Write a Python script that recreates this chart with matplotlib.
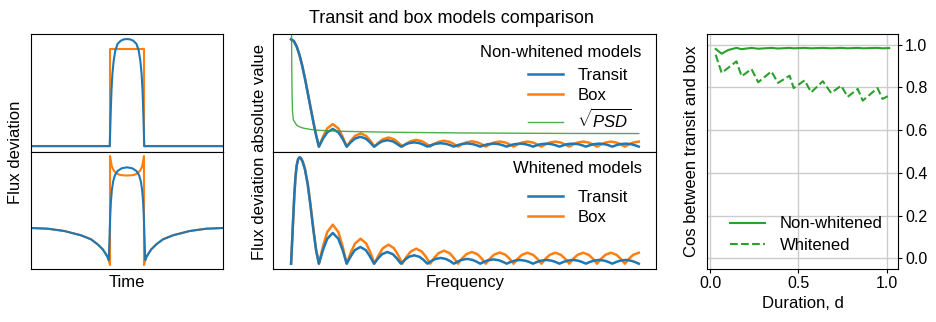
import matplotlib
matplotlib.use("Agg")
import matplotlib.pyplot as plt

plt.rcParams['font.family'] = ['Liberation Sans', 'DejaVu Sans']
plt.rcParams['mathtext.fontset'] = 'custom'
plt.rcParams['mathtext.rm'] = 'Liberation Sans'
plt.rcParams['mathtext.it'] = 'Liberation Sans:italic'

BLUE = '#1f77b4'
ORANGE = '#ff7f0e'
GREEN = '#2ca02c'

# ---------------- Left panels: time domain ----------------
time_box = [-1.0, -0.177, -0.177, 0.177, 0.177, 1.0]
flux_box = [0.0, 0.0, 1.0, 1.0, 0.0, 0.0]

time_transit = [-1.0, -0.18, -0.174, -0.168, -0.162, -0.152, -0.139, -0.122, -0.099, -0.065, -0.032, 0.0,
                0.032, 0.065, 0.099, 0.122, 0.139, 0.152, 0.162, 0.168, 0.174, 0.18, 1.0]
flux_transit = [0.0, 0.0, 0.2, 0.4, 0.57, 0.745, 0.88, 0.985, 1.054, 1.088, 1.102, 1.105,
                1.102, 1.088, 1.054, 0.985, 0.88, 0.745, 0.57, 0.4, 0.2, 0.0, 0.0]

time_box_w = [-1.0, -0.826, -0.653, -0.479, -0.375, -0.306, -0.253, -0.219, -0.2, -0.19, -0.177,
              -0.177, -0.167, -0.156, -0.139, -0.115, -0.08, -0.045, 0.0,
              0.045, 0.08, 0.115, 0.139, 0.156, 0.167, 0.177,
              0.177, 0.19, 0.2, 0.219, 0.253, 0.306, 0.375, 0.479, 0.653, 0.826, 1.0]
flux_box_w = [0.37, 0.363, 0.34, 0.297, 0.257, 0.207, 0.157, 0.107, 0.075, 0.045, 0.0,
              1.09, 1.03, 0.98, 0.947, 0.92, 0.903, 0.897, 0.895,
              0.897, 0.903, 0.92, 0.947, 0.98, 1.03, 1.09,
              0.0, 0.045, 0.075, 0.107, 0.157, 0.207, 0.257, 0.297, 0.34, 0.363, 0.37]

time_transit_w = [-1.0, -0.826, -0.653, -0.479, -0.375, -0.306, -0.253, -0.219, -0.2, -0.19,
                  -0.182, -0.175, -0.168, -0.158, -0.144, -0.126, -0.098, -0.056, 0.0,
                  0.056, 0.098, 0.126, 0.144, 0.158, 0.168, 0.175, 0.182,
                  0.19, 0.2, 0.219, 0.253, 0.306, 0.375, 0.479, 0.653, 0.826, 1.0]
flux_transit_w = [0.37, 0.363, 0.34, 0.297, 0.257, 0.207, 0.157, 0.107, 0.075, 0.05,
                  0.28, 0.49, 0.63, 0.747, 0.837, 0.897, 0.94, 0.967, 0.977,
                  0.967, 0.94, 0.897, 0.837, 0.747, 0.63, 0.49, 0.28,
                  0.05, 0.075, 0.107, 0.157, 0.207, 0.257, 0.297, 0.34, 0.363, 0.37]

# ---------------- Middle panels: frequency domain ----------------
freq_main_nw = [0.0, 0.1, 0.2, 0.3, 0.4, 0.5, 0.6, 0.7, 0.8, 0.9, 1.0]
box_main_nw = [1.0, 0.984, 0.935, 0.858, 0.757, 0.637, 0.504, 0.368, 0.234, 0.109, 0.0]
transit_main_nw = [1.0, 0.984, 0.934, 0.856, 0.754, 0.633, 0.499, 0.362, 0.229, 0.105, 0.0]

freq_main_w = [0.0, 0.04, 0.08, 0.12, 0.16, 0.2, 0.25, 0.3, 0.35, 0.42, 0.5, 0.6, 0.7, 0.8, 0.9, 1.0]
box_main_w = [0.0, 0.22, 0.45, 0.66, 0.82, 0.92, 0.98, 1.0, 0.995, 0.96, 0.89, 0.75, 0.55, 0.33, 0.13, 0.0]
transit_main_w = [0.0, 0.22, 0.45, 0.66, 0.82, 0.92, 0.98, 1.0, 0.993, 0.955, 0.885, 0.742, 0.54, 0.32, 0.125, 0.0]

freq_side_box = [1.15, 1.3, 1.5, 1.7, 1.85, 2.0,
                 2.15, 2.3, 2.5, 2.7, 2.85, 3.0,
                 3.15, 3.3, 3.5, 3.7, 3.85, 4.0,
                 4.15, 4.3, 4.5, 4.7, 4.85, 5.0,
                 5.15, 5.3, 5.5, 5.7, 5.85, 6.0,
                 6.15, 6.3, 6.5, 6.7, 6.85, 7.0,
                 7.15, 7.3, 7.5, 7.7, 7.85, 8.0,
                 8.15, 8.3, 8.5, 8.7, 8.85, 9.0,
                 9.15, 9.3, 9.5, 9.7, 9.85, 10.0,
                 10.15, 10.3, 10.5, 10.7, 10.85, 11.0,
                 11.15, 11.3, 11.5, 11.7, 11.85, 12.0,
                 12.15, 12.3, 12.5]
box_side_nw = [0.095, 0.17, 0.21, 0.17, 0.095, 0.0,
               0.056, 0.1, 0.124, 0.1, 0.056, 0.0,
               0.039, 0.069, 0.085, 0.069, 0.039, 0.0,
               0.029, 0.051, 0.063, 0.051, 0.029, 0.0,
               0.025, 0.045, 0.055, 0.045, 0.025, 0.0,
               0.023, 0.04, 0.05, 0.04, 0.023, 0.0,
               0.022, 0.039, 0.048, 0.039, 0.022, 0.0,
               0.021, 0.038, 0.047, 0.038, 0.021, 0.0,
               0.021, 0.038, 0.047, 0.038, 0.021, 0.0,
               0.021, 0.038, 0.047, 0.038, 0.021, 0.0,
               0.021, 0.038, 0.047, 0.038, 0.021, 0.0,
               0.021, 0.038, 0.047]
box_side_w = [0.167, 0.297, 0.367, 0.297, 0.167, 0.0,
              0.107, 0.19, 0.235, 0.19, 0.107, 0.0,
              0.081, 0.145, 0.179, 0.145, 0.081, 0.0,
              0.064, 0.114, 0.141, 0.114, 0.064, 0.0,
              0.055, 0.099, 0.122, 0.099, 0.055, 0.0,
              0.05, 0.089, 0.11, 0.089, 0.05, 0.0,
              0.048, 0.085, 0.105, 0.085, 0.048, 0.0,
              0.047, 0.083, 0.103, 0.083, 0.047, 0.0,
              0.047, 0.083, 0.103, 0.083, 0.047, 0.0,
              0.047, 0.083, 0.103, 0.083, 0.047, 0.0,
              0.047, 0.083, 0.103, 0.083, 0.047, 0.0,
              0.047, 0.083, 0.103]

freq_side_transit = [1.15, 1.3, 1.5, 1.7, 1.85, 2.0,
                     2.15, 2.29, 2.49, 2.69, 2.83, 2.98,
                     3.13, 3.27, 3.46, 3.66, 3.8, 3.95,
                     4.09, 4.23, 4.43, 4.62, 4.76, 4.9,
                     5.04, 5.18, 5.38, 5.57, 5.71, 5.85,
                     5.99, 6.13, 6.33, 6.52, 6.66, 6.8,
                     6.94, 7.08, 7.28, 7.47, 7.61, 7.75,
                     7.89, 8.03, 8.23, 8.42, 8.56, 8.7,
                     8.84, 8.98, 9.18, 9.37, 9.51, 9.65,
                     9.79, 9.93, 10.13, 10.32, 10.46, 10.6,
                     10.74, 10.88, 11.08, 11.27, 11.41, 11.55,
                     11.69, 11.83, 12.03, 12.22, 12.36, 12.5]
transit_side_nw = [0.075, 0.133, 0.165, 0.133, 0.075, 0.0,
                   0.042, 0.074, 0.092, 0.074, 0.042, 0.0,
                   0.027, 0.049, 0.06, 0.049, 0.027, 0.0,
                   0.018, 0.032, 0.04, 0.032, 0.018, 0.0,
                   0.015, 0.026, 0.032, 0.026, 0.015, 0.0,
                   0.014, 0.024, 0.03, 0.024, 0.014, 0.0,
                   0.013, 0.023, 0.028, 0.023, 0.013, 0.0,
                   0.013, 0.023, 0.028, 0.023, 0.013, 0.0,
                   0.013, 0.023, 0.028, 0.023, 0.013, 0.0,
                   0.013, 0.023, 0.028, 0.023, 0.013, 0.0,
                   0.013, 0.023, 0.028, 0.023, 0.013, 0.0,
                   0.013, 0.023, 0.028, 0.023, 0.013, 0.0]
transit_side_w = [0.131, 0.234, 0.289, 0.234, 0.131, 0.0,
                  0.071, 0.127, 0.157, 0.127, 0.071, 0.0,
                  0.05, 0.089, 0.11, 0.089, 0.05, 0.0,
                  0.036, 0.064, 0.079, 0.064, 0.036, 0.0,
                  0.025, 0.044, 0.054, 0.044, 0.025, 0.0,
                  0.02, 0.036, 0.045, 0.036, 0.02, 0.0,
                  0.018, 0.032, 0.04, 0.032, 0.018, 0.0,
                  0.016, 0.028, 0.035, 0.028, 0.016, 0.0,
                  0.016, 0.028, 0.035, 0.028, 0.016, 0.0,
                  0.016, 0.028, 0.035, 0.028, 0.016, 0.0,
                  0.016, 0.028, 0.035, 0.028, 0.016, 0.0,
                  0.016, 0.028, 0.035, 0.028, 0.016, 0.0]

freq_psd = [0.0, 0.015, 0.025, 0.035, 0.05, 0.08, 0.15, 0.2, 0.3, 0.45, 0.7, 1.0,
            1.5, 2.0, 3.0, 4.0, 6.0, 8.0, 10.0, 12.5]
sqrt_psd = [3.0, 1.2, 0.75, 0.5, 0.33, 0.25, 0.222, 0.2, 0.185, 0.172, 0.16, 0.152,
            0.146, 0.142, 0.137, 0.133, 0.128, 0.125, 0.123, 0.122]

# ---------------- Right panel: cosine vs duration ----------------
dur_nw = [0.032, 0.066, 0.103, 0.15, 0.179, 0.235, 0.273, 0.348, 0.385, 0.451, 0.474,
          0.536, 0.573, 0.639, 0.686, 0.743, 0.78, 0.837, 0.865, 0.949, 0.977, 1.015]
cos_nw = [0.980, 0.958, 0.975, 0.985, 0.979, 0.985, 0.981, 0.985, 0.982, 0.985, 0.983,
          0.985, 0.983, 0.985, 0.983, 0.985, 0.983, 0.985, 0.983, 0.985, 0.983, 0.984]
dur_w = [0.032, 0.066, 0.15, 0.179, 0.235, 0.273, 0.348, 0.385, 0.451, 0.474, 0.536,
         0.573, 0.639, 0.686, 0.743, 0.78, 0.837, 0.865, 0.949, 0.977, 1.015]
cos_w = [0.953, 0.868, 0.922, 0.852, 0.886, 0.824, 0.875, 0.821, 0.855, 0.797, 0.833,
         0.777, 0.829, 0.774, 0.808, 0.756, 0.793, 0.738, 0.797, 0.746, 0.762]

# ---------------- Figure ----------------
W, H = 937, 322
fig = plt.figure(figsize=(W / 100, H / 100), dpi=100)


def rect(x0, y0, x1, y1):
    return [x0 / W, 1 - y1 / H, (x1 - x0) / W, (y1 - y0) / H]


FS = 12

ax_lt = fig.add_axes(rect(31, 34, 223, 152))
ax_lb = fig.add_axes(rect(31, 152, 223, 269))
ax_mt = fig.add_axes(rect(273, 34, 656, 152))
ax_mb = fig.add_axes(rect(273, 152, 656, 269))
ax_r = fig.add_axes(rect(707, 34, 898, 269))

for ax in (ax_lt, ax_lb, ax_mt, ax_mb):
    ax.set_xticks([])
    ax.set_yticks([])

# left top
ax_lt.plot(time_box, flux_box, color=ORANGE, lw=1.5)
ax_lt.plot(time_transit, flux_transit, color=BLUE, lw=1.5)
ax_lt.set_xlim(-1, 1)
ax_lt.set_ylim(-0.06, 1.157)

# left bottom
ax_lb.plot(time_box_w, flux_box_w, color=ORANGE, lw=1.5)
ax_lb.plot(time_transit_w, flux_transit_w, color=BLUE, lw=1.5)
ax_lb.set_xlim(-1, 1)
ax_lb.set_ylim(-0.04, 1.13)

fig.text(16 / W, 1 - 152 / H, 'Flux deviation', rotation=90, ha='center', va='center', fontsize=FS)
fig.text(127 / W, 1 - 286.7 / H, 'Time', ha='center', va='baseline', fontsize=FS)

# middle top
lb, = ax_mt.plot(freq_main_nw + freq_side_box, box_main_nw + box_side_nw, color=ORANGE, lw=1.8)
lt, = ax_mt.plot(freq_main_nw + freq_side_transit, transit_main_nw + transit_side_nw, color=BLUE, lw=1.8)
lp, = ax_mt.plot(freq_psd, sqrt_psd, color=GREEN, lw=1.0, alpha=0.85)
ax_mt.set_xlim(-0.65, 13.12)
ax_mt.set_ylim(-0.05, 1.05)
ax_mt.text(0.9627, 0.8076, 'Non-whitened models', transform=ax_mt.transAxes,
           ha='right', va='baseline', fontsize=FS)
ax_mt.legend([lt, lb, lp], ['Transit', 'Box', r'$\sqrt{PSD}$'], loc='upper left',
             bbox_to_anchor=(0.6666, 0.711), frameon=False, fontsize=FS,
             borderpad=0, borderaxespad=0, handlelength=2.1, handletextpad=0.85,
             labelspacing=0.3)

# middle bottom
lb2, = ax_mb.plot(freq_main_w + freq_side_box, box_main_w + box_side_w, color=ORANGE, lw=1.8)
lt2, = ax_mb.plot(freq_main_w + freq_side_transit, transit_main_w + transit_side_w, color=BLUE, lw=1.8)
ax_mb.set_xlim(-0.65, 13.12)
ax_mb.set_ylim(-0.05, 1.05)
ax_mb.text(0.9627, 0.818, 'Whitened models', transform=ax_mb.transAxes,
           ha='right', va='baseline', fontsize=FS)
ax_mb.legend([lt2, lb2], ['Transit', 'Box'], loc='upper left',
             bbox_to_anchor=(0.6666, 0.677), frameon=False, fontsize=FS,
             borderpad=0, borderaxespad=0, handlelength=2.1, handletextpad=0.85,
             labelspacing=0.3)

fig.text(259 / W, 1 - 152 / H, 'Flux deviation absolute value', rotation=90,
         ha='center', va='center', fontsize=FS)
fig.text(465 / W, 1 - 286.7 / H, 'Frequency', ha='center', va='baseline', fontsize=FS)
fig.text(451.3 / W, 1 - 22.7 / H, 'Transit and box models comparison', ha='center',
         va='baseline', fontsize=13)

# right panel
ax_r.plot(dur_nw, cos_nw, color=GREEN, lw=1.5, label='Non-whitened')
ax_r.plot(dur_w, cos_w, color=GREEN, lw=1.5, ls='--', label='Whitened')
ax_r.set_xlim(-0.017, 1.065)
ax_r.set_ylim(-0.05, 1.05)
ax_r.set_xticks([0.0, 0.5, 1.0])
ax_r.set_xticklabels(['0.0', '0.5', '1.0'])
ax_r.set_yticks([0.0, 0.2, 0.4, 0.6, 0.8, 1.0])
ax_r.set_yticklabels(['0.0', '0.2', '0.4', '0.6', '0.8', '1.0'])
ax_r.yaxis.tick_right()
ax_r.grid(True, color='#cccccc', lw=1.0)
ax_r.set_axisbelow(True)
ax_r.tick_params(axis='both', labelsize=11.5, length=3, pad=2)
ax_r.legend(loc='upper left', bbox_to_anchor=(0.12, 0.224), frameon=False, fontsize=FS,
            borderpad=0, borderaxespad=0, handlelength=2.1, handletextpad=0.9,
            labelspacing=0.4)
fig.text(691.7 / W, 1 - 151.5 / H, 'Cos between transit and box', rotation=90,
         ha='center', va='center', fontsize=FS)
fig.text(803.3 / W, 1 - 308.3 / H, 'Duration, d', ha='center', va='baseline', fontsize=FS)

fig.savefig('out.png', dpi=100)
